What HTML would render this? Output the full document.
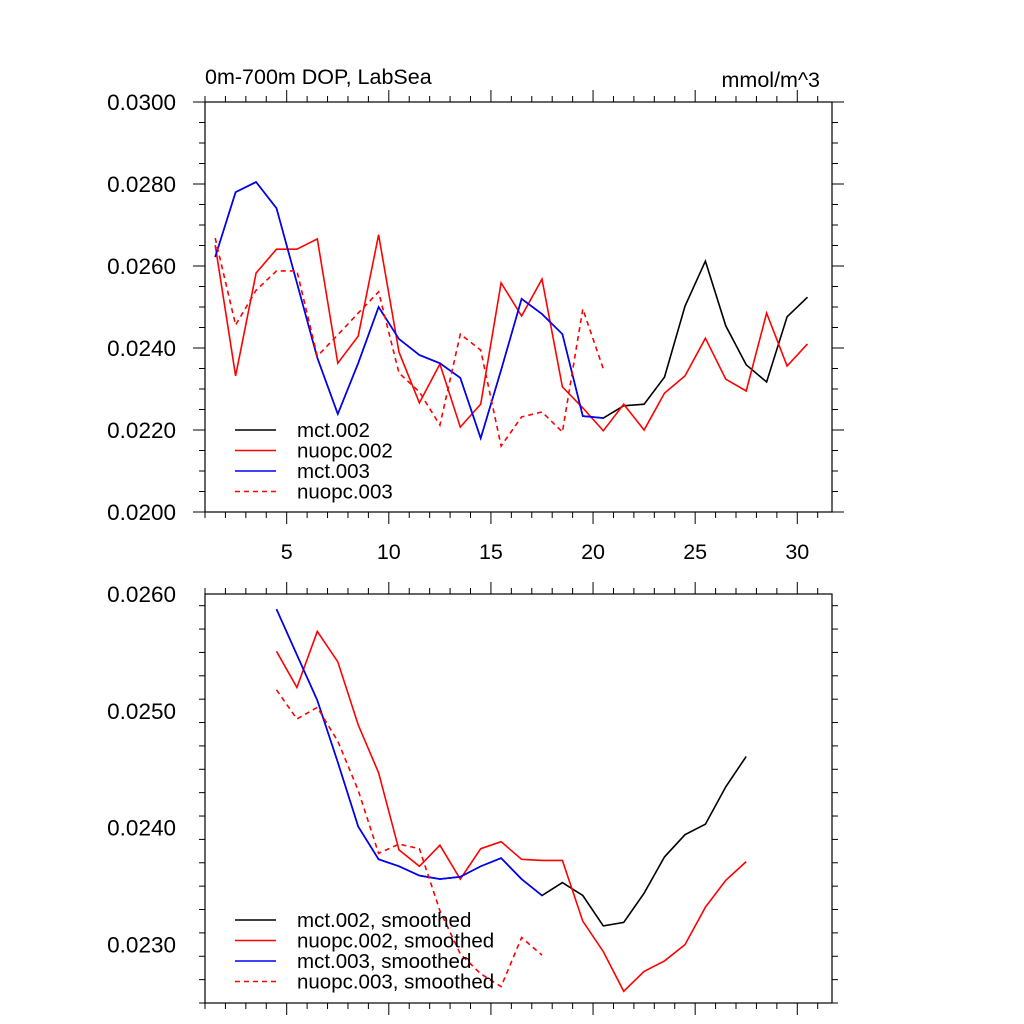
<!DOCTYPE html>
<html><head><meta charset="utf-8"><style>
html,body{margin:0;padding:0;background:#fff;}
svg{display:block;font-family:"Liberation Sans",sans-serif;}
</style></head><body>
<svg id="chart" width="1024" height="1024" viewBox="0 0 1024 1024">
<text x="205" y="84" font-size="21.5">0m-700m DOP, LabSea</text>
<text x="820" y="87" font-size="21.5" text-anchor="end">mmol/m^3</text>
<g id="top"></g>
<g id="bot"></g>
</svg>
<script>
const xTickLabels = [5, 10, 15, 20, 25, 30];
const topYTicks = ["0.0200","0.0220","0.0240","0.0260","0.0280","0.0300"];
const botYTicks = ["0.0230","0.0240","0.0250","0.0260"];
const topLegend = ["mct.002","nuopc.002","mct.003","nuopc.003"];
const botLegend = ["mct.002, smoothed","nuopc.002, smoothed","mct.003, smoothed","nuopc.003, smoothed"];
// raw series, starting at index 1 (x = i + 0.5)
const mct002 = [.02622,.02780,.02805,.02741,.02559,.02376,.02239,.02363,.02500,.02422,.02383,.02363,.02327,.02180,.02346,.02520,.02483,.02434,.02234,.02229,.02259,.02263,.02329,.02502,.02612,.02454,.02359,.02317,.02476,.02524];
const nuopc002 = [.02651,.02332,.02583,.02641,.02641,.02666,.02363,.02429,.02676,.02390,.02266,.02361,.02207,.02263,.02559,.02478,.02568,.02305,.02254,.02198,.02263,.02200,.02290,.02332,.02424,.02324,.02295,.02485,.02356,.02410];
const mct003 = [.02622,.02780,.02805,.02741,.02559,.02376,.02239,.02363,.02500,.02422,.02383,.02363,.02327,.02180,.02346,.02520,.02483,.02434,.02234,.02229];
const nuopc003 = [.02668,.02456,.02541,.02588,.02588,.02380,.02432,.02485,.02537,.02339,.02293,.02212,.02434,.02395,.02161,.02232,.02244,.02195,.02495,.02349];
// smoothed series, starting at index 4
const mct002s = [.02587,.02548,.02509,.02456,.02401,.02373,.02367,.02359,.02356,.02358,.02367,.02374,.02356,.02342,.02353,.02342,.02316,.02319,.02344,.02375,.02394,.02403,.02435,.02461];
const nuopc002s = [.02551,.02520,.02568,.02542,.02488,.02447,.02381,.02367,.02385,.02356,.02382,.02388,.02373,.02372,.02372,.02320,.02294,.02260,.02277,.02286,.02300,.02332,.02355,.02371];
const mct003s = [.02587,.02548,.02509,.02456,.02401,.02373,.02367,.02359,.02356,.02358,.02367,.02374,.02356,.02342];
const nuopc003s = [.02518,.02493,.02503,.02474,.02432,.02378,.02386,.02382,.02329,.02292,.02275,.02264,.02306,.02291];

const NS="http://www.w3.org/2000/svg";
const L=205,R=832,XMIN=1,XMAX=31.7;
function sx(v){return L+(v-XMIN)/(XMAX-XMIN)*(R-L);}
function mk(tag,attrs,parent){const e=document.createElementNS(NS,tag);for(const k in attrs)e.setAttribute(k,attrs[k]);parent.appendChild(e);return e;}

function panel(g,T,B,ymin,ymax,yLabels,minorStep,series,start,legend,legY,showX,pfx){
  const sy=v=>B-(v-ymin)/(ymax-ymin)*(B-T);
  const fr=mk('rect',{x:L,y:T,width:R-L,height:B-T,fill:'none',stroke:'#000','stroke-width':1.2},g);
  
  
  for(let v=1;v<=31;v++){
    const x=sx(v);const major=v%5===0;const len=major?12:6;
    const t1=mk('line',{x1:x,x2:x,y1:B,y2:B+len,stroke:'#000','stroke-width':1},g);
    
    
    const t2=mk('line',{x1:x,x2:x,y1:T,y2:T-len,stroke:'#000','stroke-width':1},g);
    
    
  }
  if(showX){xTickLabels.forEach(v=>{
    const t=mk('text',{x:sx(v),y:B+47,'font-size':21.5,'text-anchor':'middle'},g);t.textContent=v;
    
    
  });}
  const n=Math.round((ymax-ymin)/minorStep);
  for(let i=0;i<=n;i++){
    const v=ymin+i*minorStep;const y=sy(v);
    const major=yLabels.some(s=>Math.abs(parseFloat(s)-v)<1e-7);const len=major?12:6;
    const a=mk('line',{x1:L,x2:L-len,y1:y,y2:y,stroke:'#000','stroke-width':1},g);
    
    
    const b=mk('line',{x1:R,x2:R+len,y1:y,y2:y,stroke:'#000','stroke-width':1},g);
    
    
  }
  yLabels.forEach(s=>{
    const t=mk('text',{x:176,y:sy(parseFloat(s))+8,'font-size':22.5,'text-anchor':'end'},g);t.textContent=s;
    
    
  });
  const styles=[{c:'#000',d:''},{c:'#f00',d:''},{c:'#00f',d:''},{c:'#f00',d:'5,4'}];
  series.forEach((arr,si)=>{
    const pts=arr.map((v,i)=>sx(start+i+0.5).toFixed(1)+','+sy(v).toFixed(1)).join(' ');
    const p=mk('polyline',{points:pts,fill:'none',stroke:styles[si].c,'stroke-width':1.6,'stroke-dasharray':styles[si].d},g);
    
    
  });
  legend.forEach((s,i)=>{
    const y=legY+i*20.5;
    const l=mk('line',{x1:235,x2:276,y1:y,y2:y,stroke:styles[i].c,'stroke-width':1.6,'stroke-dasharray':styles[i].d},g);
    
    
    const t=mk('text',{x:297,y:y+7,'font-size':20.5},g);t.textContent=s;
    
    
  });
}
panel(document.getElementById('top'),102,512,0.020,0.030,topYTicks,0.0005,[mct002,nuopc002,mct003,nuopc003],1,topLegend,430,true,'top');
panel(document.getElementById('bot'),594,1003,0.0225,0.026,botYTicks,0.0002,[mct002s,nuopc002s,mct003s,nuopc003s],4,botLegend,920,false,'bottom');
</script>
</body></html>
